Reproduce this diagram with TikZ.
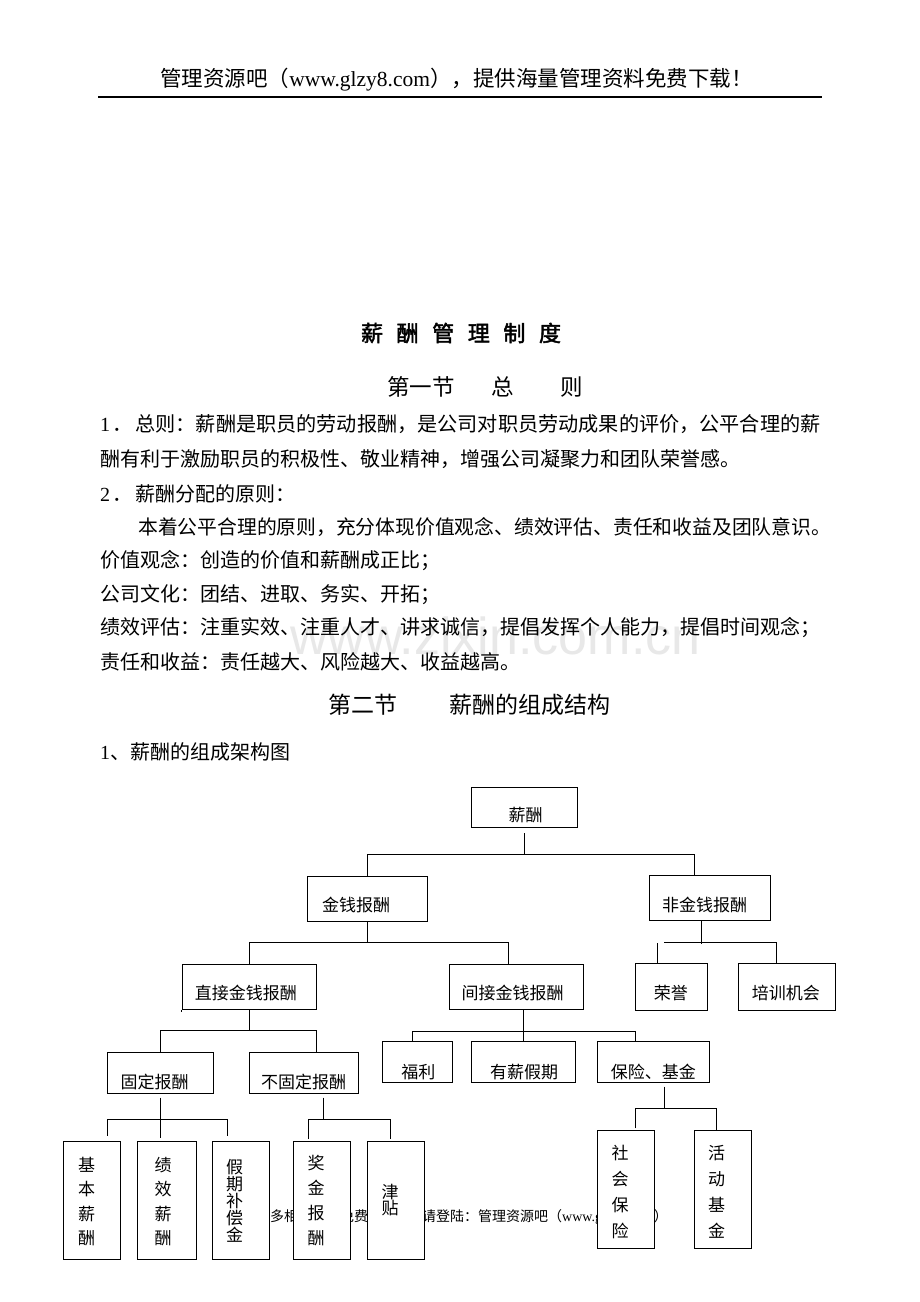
\documentclass[tikz,border=0pt]{standalone}
\usepackage{fontspec}
\setmainfont{Liberation Serif}
\newfontfamily\cjk{Noto Sans CJK SC}
\newfontfamily\cjkbold{Noto Sans CJK SC}[FakeBold=2]
\newfontfamily\wmfont{Liberation Sans}
\begin{document}
\begin{tikzpicture}[x=1pt,y=-1pt,
  box/.style={draw, fill=white, line width=1pt, inner sep=0pt},
  lbl/.style={font=\cjk\fontsize{17}{17}\selectfont, inner sep=0pt},
  vlbl/.style={font=\cjk\fontsize{17}{#1}\selectfont, inner sep=0pt, align=center},
  txt/.style={font=\cjk\fontsize{20}{20}\selectfont, inner sep=0pt, anchor=west},
  sec/.style={font=\cjk\fontsize{23}{23}\selectfont, inner sep=0pt, anchor=west},
  conn/.style={line width=1pt}]
\path[use as bounding box, fill=white] (0,0) rectangle (920,1302);

% header
\node[font=\fontsize{21.5}{21.5}\selectfont, inner sep=0pt] (hdr) at (456.5,80)
  {{\cjk 管理资源吧（}www.glzy8.com{\cjk ），提供海量管理资料免费下载！}};
\draw[line width=1.3pt] (98,97) -- (822,97);

% watermark
\node[font=\wmfont\fontsize{52}{52}\selectfont, text=black!9, inner sep=0pt, anchor=west] (wm) at (290,636) {www.zixin.com.cn};

% title
\node[font=\cjkbold\fontsize{22}{22}\selectfont, inner sep=0pt] (title) at (461,333)
  {薪\hspace{13.6pt}酬\hspace{13.6pt}管\hspace{13.6pt}理\hspace{13.6pt}制\hspace{13.6pt}度};

\node[sec, font=\cjk\fontsize{22.5}{22.5}\selectfont] (s1a) at (387,387) {第一节};
\node[sec, font=\cjk\fontsize{22.5}{22.5}\selectfont] (s1b) at (491,387) {总};
\node[sec, font=\cjk\fontsize{22.5}{22.5}\selectfont] (s1c) at (560,387) {则};

\node[txt, font=\cjk\fontsize{20.15}{20.15}\selectfont] (l1) at (100,424) {{\rmfamily 1}\hspace{2pt}．\hspace{3pt}总则：薪酬是职员的劳动报酬，是公司对职员劳动成果的评价，公平合理的薪};
\node[txt] (l2) at (100,459) {酬有利于激励职员的积极性、敬业精神，增强公司凝聚力和团队荣誉感。};
\node[txt] (l3) at (100,494) {{\rmfamily 2}\hspace{2pt}．\hspace{3pt}薪酬分配的原则：};
\node[txt, font=\cjk\fontsize{19.8}{19.8}\selectfont] (l4) at (138,527) {本着公平合理的原则，充分体现价值观念、绩效评估、责任和收益及团队意识。};
\node[txt] (l5) at (100,561) {价值观念：创造的价值和薪酬成正比；};
\node[txt] (l6) at (100,595) {公司文化：团结、进取、务实、开拓；};
\node[txt] (l7) at (100,628) {绩效评估：注重实效、注重人才、讲求诚信，提倡发挥个人能力，提倡时间观念；};
\node[txt] (l8) at (100,662) {责任和收益：责任越大、风险越大、收益越高。};

\node[sec] (s2a) at (328,705) {第二节};
\node[sec] (s2b) at (449,705) {薪酬的组成结构};
\node[txt] (l9) at (100,752) {{\rmfamily 1}、薪酬的组成架构图};

% footer (partly hidden by boxes)
\node[font=\fontsize{14}{14}\selectfont, inner sep=0pt, anchor=west] (ftr) at (256,1217)
  {{\cjk 更多相关资料免费下载，\hspace{12pt}请登陆：管理资源吧（}www.glzy8.com{\cjk ）}};

% boxes
\node[box, minimum width=106pt, minimum height=40pt] (xc) at (524,807) {};
\node[box, minimum width=120.4pt, minimum height=45.7pt] (m) at (367.5,899) {};
\node[box, minimum width=120.7pt, minimum height=44.7pt] (nm) at (709.7,898.3) {};
\node[box, minimum width=133.7pt, minimum height=45pt] (d) at (249.2,986.8) {};
\node[box, minimum width=134.3pt, minimum height=45pt] (i) at (516.2,986.8) {};
\node[box, minimum width=72.3pt, minimum height=46.7pt] (h) at (671.2,987.3) {};
\node[box, minimum width=97.3pt, minimum height=46.7pt] (t) at (787.3,987.3) {};
\node[box, minimum width=106pt, minimum height=41pt] (f) at (160.7,1072.5) {};
\node[box, minimum width=109.3pt, minimum height=41pt] (nf) at (303.7,1072.5) {};
\node[box, minimum width=70pt, minimum height=40.6pt] (wf) at (417.3,1062) {};
\node[box, minimum width=104pt, minimum height=40.6pt] (pv) at (523,1062) {};
\node[box, minimum width=111.6pt, minimum height=40.6pt] (ins) at (653.5,1062) {};
\node[box, minimum width=57.4pt, minimum height=118pt] (b1) at (92,1200) {};
\node[box, minimum width=59.3pt, minimum height=118pt] (b2) at (167.3,1200) {};
\node[box, minimum width=57pt, minimum height=118pt] (b3) at (240.5,1200) {};
\node[box, minimum width=57pt, minimum height=118pt] (b4) at (321.8,1200) {};
\node[box, minimum width=57pt, minimum height=118pt] (b5) at (395.8,1200) {};
\node[box, minimum width=56.6pt, minimum height=118.3pt] (b6) at (626,1189.2) {};
\node[box, minimum width=57.4pt, minimum height=118.3pt] (b7) at (723,1189.2) {};

% labels
\node[lbl] (xcl) at (525.5,815) {薪酬};
\node[lbl] (ml) at (356,905) {金钱报酬};
\node[lbl] (nml) at (704.7,905) {非金钱报酬};
\node[lbl] (dl) at (245.8,993) {直接金钱报酬};
\node[lbl] (il) at (512.5,993) {间接金钱报酬};
\node[lbl] (hl) at (670.8,993) {荣誉};
\node[lbl] (tl) at (785.8,993) {培训机会};
\node[lbl] (fl) at (154.7,1081.7) {固定报酬};
\node[lbl] (nfl) at (303.5,1081.7) {不固定报酬};
\node[lbl] (wfl) at (418.3,1071.7) {福利};
\node[lbl] (pvl) at (524.2,1071.7) {有薪假期};
\node[lbl] (insl) at (653.3,1071.7) {保险、基金};
\node[vlbl=24.4] (b1l) at (86.7,1201.5) {基\\本\\薪\\酬};
\node[vlbl=24.4] (b2l) at (163,1201.5) {绩\\效\\薪\\酬};
\node[vlbl=17] (b3l) at (234.5,1201) {假\\期\\补\\偿\\金};
\node[vlbl=25] (b4l) at (316,1200.5) {奖\\金\\报\\酬};
\node[vlbl=16.5] (b5l) at (390,1200) {津\\贴};
\node[vlbl=25.8] (b6l) at (620,1192) {社\\会\\保\\险};
\node[vlbl=25.8] (b7l) at (716.7,1192) {活\\动\\基\\金};

% connectors
\coordinate (nmin) at ([xshift=-15.4pt]nm.north);
\draw[conn] ([yshift=-5.7pt]xc.south) -- (xc.south |- 0,854);
\draw[conn] (m.north) |- (nmin |- 0,854) -- (nmin);

\coordinate (iin) at ([xshift=-7.9pt]i.north);
\draw[conn] (m.south) -- (m.south |- 0,942.3);
\draw[conn] (d.north) |- (iin |- 0,942.3) -- (iin);

\coordinate (nmout) at ([xshift=-8pt]nm.south);
\coordinate (tin) at ([xshift=-11.3pt]t.north);
\coordinate (hb) at (664.3,942.7);
\coordinate (hin) at ([xshift=-13.9pt]h.north);
\draw[conn] (nmout) -- (nmout |- 0,944);
\draw[conn] (hb) -| (tin);
\draw[conn] (hin) -- (hin |- 0,942.7);

\coordinate (nfin) at ([xshift=13pt]nf.north);
\draw[conn] (d.south) -- (d.south |- 0,1030);
\draw[conn] (f.north) |- (nfin |- 0,1030) -- (nfin);
\draw[conn] (d.south west) -- ++(0,2.5);

\coordinate (iout) at ([xshift=7.1pt]i.south);
\coordinate (wfin) at ([xshift=-5pt]wf.north);
\coordinate (insin) at ([xshift=-18.5pt]ins.north);
\draw[conn] (iout) -- (iout |- pv.north);
\draw[conn] (wfin) |- (insin |- 0,1031.7) -- (insin);

\coordinate (b1in) at (107.7,1135.7);
\coordinate (b3in) at (227.7,1135.7);
\draw[conn] ([yshift=-4pt]f.south) -- (f.south |- 0,1138);
\draw[conn] (b1in) |- (b3in |- 0,1119) -- (b3in);

\coordinate (nfout) at ([xshift=19.6pt]nf.south);
\coordinate (b4in) at (308.3,1139);
\coordinate (b5in) at (390.7,1139);
\draw[conn] ([yshift=-4pt]nfout) -- (nfout |- 0,1119);
\draw[conn] (b4in) |- (b5in |- 0,1119) -- (b5in);

\coordinate (insout) at ([xshift=10.8pt]ins.south);
\coordinate (b6in) at (635,1128.3);
\coordinate (b7in) at (b7.north -| 716.7,0);
\draw[conn] ([yshift=-3.7pt]insout) -- (insout |- 0,1109);
\draw[conn] (b6in) |- (b7in |- 0,1108.3) -- (b7in);
\end{tikzpicture}
\end{document}
